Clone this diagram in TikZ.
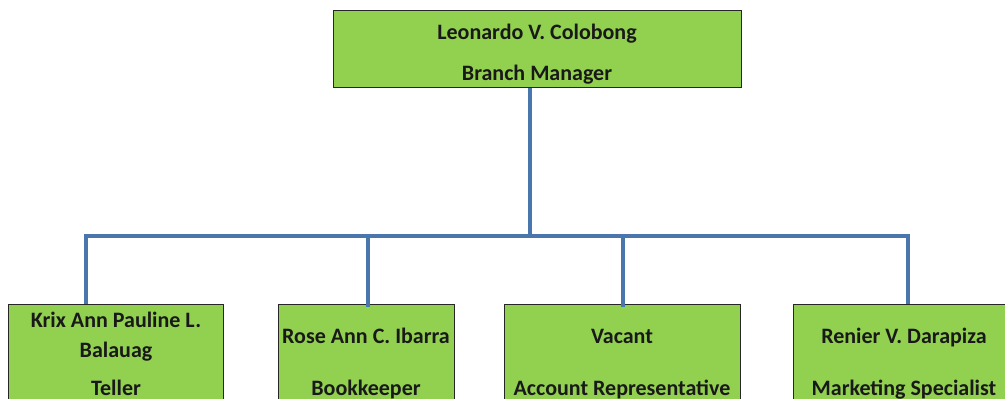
\documentclass[tikz,border=0pt]{standalone}
\usepackage{fontspec}
\setmainfont{Carlito}
\definecolor{boxgreen}{HTML}{92D050}
\definecolor{linkblue}{HTML}{4A76AE}
\begin{document}
\begin{tikzpicture}[x=1pt,y=-1pt,
  box/.style={draw=black!85, line width=1.3pt, fill=boxgreen, rectangle, anchor=north west, inner sep=0pt},
  txt/.style={anchor=base, inner sep=0pt, font=\fontsize{22}{26}\selectfont\bfseries, text=black!90},
  link/.style={draw=linkblue, line width=3.6pt}]
\useasboundingbox (0,0) rectangle (1005,399);
\clip (0,0) rectangle (1005,399);

% boxes
\node[box, minimum width=408pt, minimum height=77pt] (boss) at (333,10) {};
\node[box, minimum width=215pt, minimum height=130pt] (teller) at (8,304) {};
\node[box, minimum width=176pt, minimum height=130pt] (bookkeeper) at (278,304) {};
\node[box, minimum width=236pt, minimum height=130pt] (accrep) at (504,304) {};
\node[box, minimum width=230pt, minimum height=130pt] (marketing) at (793,304) {};

% texts
\node[txt] (bossname) at (537,39) {Leonardo V. Colobong};
\node[txt] (bossrole) at (537,80) {Branch Manager};
\node[txt] (tellername1) at (116,327) {Krix Ann Pauline L.};
\node[txt] (tellername2) at (116,357) {Balauag};
\node[txt] (tellerrole) at (116,395) {Teller};
\node[txt] (bookname) at (366,343) {Rose Ann C. Ibarra};
\node[txt] (bookrole) at (366,395) {Bookkeeper};
\node[txt] (accname) at (622,343) {Vacant};
\node[txt] (accrole) at (622,395) {Account Representative};
\node[txt] (mktname) at (904,343) {Renier V. Darapiza};
\node[txt] (mktrole) at (904,395) {Marketing Specialist};

% connectors
\coordinate (trunk) at (530,236);
\coordinate (barL) at (86,236);
\coordinate (barR) at (908,236);
\coordinate (dropB) at (368,236);
\coordinate (dropC) at (623,236);
\draw[link] (boss.south -| trunk) -- (trunk);
\draw[link, line cap=rect] (barL) -- (barR);
\draw[link] (barL) -- (barL |- teller.north);
\draw[link] (dropB) -- ([yshift=-3pt]dropB |- bookkeeper.north);
\draw[link] (dropC) -- ([yshift=-3pt]dropC |- accrep.north);
\draw[link] (barR) -- (barR |- marketing.north);
\end{tikzpicture}
\end{document}
